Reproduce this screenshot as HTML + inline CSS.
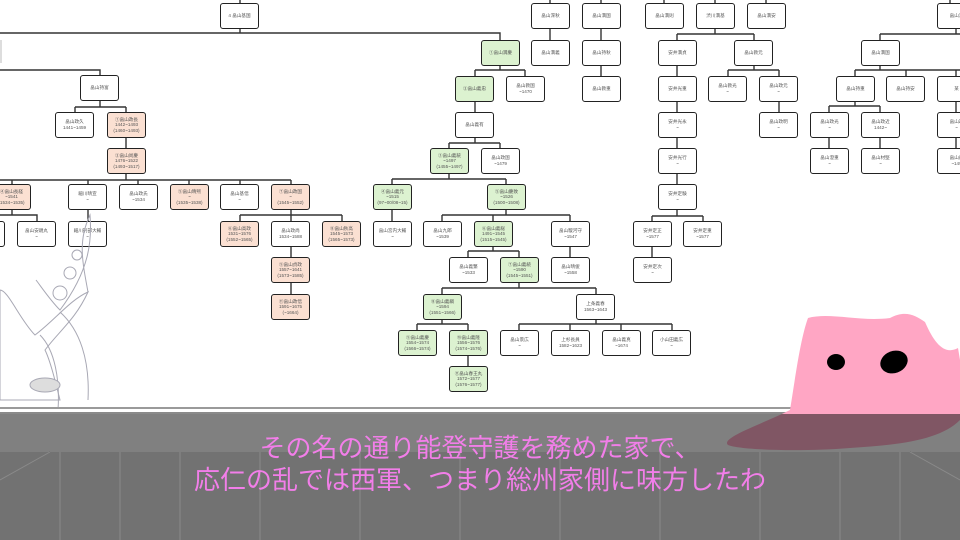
<!DOCTYPE html>
<html><head><meta charset="utf-8">
<style>
*{margin:0;padding:0;box-sizing:border-box}
body{width:960px;height:540px;overflow:hidden;background:#fff;position:relative;font-family:"Liberation Sans","Noto Sans CJK JP",sans-serif}
.b{position:absolute;width:39px;height:26px;border:1.4px solid #222;border-radius:3px;background:#fff;font-size:4.6px;line-height:5.6px;color:#555;text-align:center;display:flex;flex-direction:column;justify-content:center;white-space:nowrap;overflow:hidden}
.g{background:#dcf2d0}
.p{background:#fbe0d2}
svg{position:absolute;left:0;top:0}
.band{position:absolute;left:0;top:414px;width:960px;height:38px;background:rgba(15,15,15,0.53)}
.floor{position:absolute;left:0;top:452px;width:960px;height:88px;background:#727272}
.sub{position:absolute;left:0;width:960px;text-align:center;color:#f27ee9;font-size:26px;line-height:30px;font-family:"Liberation Sans","Noto Sans CJK JP",sans-serif}
</style></head><body>
<svg width="960" height="540" stroke="#333" stroke-width="1.4" fill="none">
<path d="M240 0V3M550 0V3M601 0V3M664 0V3M715 0V3M766 0V3M950 0V3
M240 29V33M0 33H500V40M550 29V40M601 29V40M601 65V76
M0 70H100V75M100 101V107M75 107H126M75 107V112M126 107V112M126 138V148M126 174V180M0 180H291
M12 180V184M88 180V184M138 180V184M189 180V184M240 180V184M291 180V184
M12 210V215M0 215H37V221M88 210V221M291 210V215M240 215H342M240 215V221M291 215V221M342 215V221M291 247V257M291 283V294
M500 65V70M475 70H525M475 70V76M525 70V76M475 101V112M475 138V143M449 143H500M449 143V148M500 143V148M449 174V179M392 179H506M392 179V184M506 179V184M392 210V221
M506 210V215M442 215H570M442 215V221M493 215V221M570 215V221M493 247V251M468 251H519M468 251V257M519 251V257M570 247V257
M519 283V288M442 288H596M442 288V294M596 288V294M442 320V324M417 324H468M417 324V330M468 324V330M468 356V366
M596 320V324M519 324H672M519 324V330M570 324V330M621 324V330M672 324V330
M715 29V34M677 34H754M677 34V40M754 34V40M677 65V76M677 101V112M677 138V148M677 174V184M677 210V216M652 216H703M652 216V221M703 216V221M652 247V257
M754 65V70M728 70H779M728 70V76M779 70V76M779 101V112
M956 29V34M880 34H960M880 34V40M880 65V70M855 70H960M855 70V76M906 70V76M956 70V76M855 101V106M829 106H880M829 106V112M880 106V112M829 138V148M880 138V148M956 101V112M956 138V148"/>
<rect x="0" y="40" width="2" height="23" fill="#ddd" stroke="none"/>
</svg>

<div class="b" style="left:220px;top:3px">4 畠山基国</div>
<div class="b" style="left:80px;top:75px">畠山持富</div>
<div class="b" style="left:55px;top:112px">畠山政久<br>1441~1459</div>
<div class="b p" style="left:107px;top:112px">①畠山政長<br>1442~1493<br>(1460~1493)</div>
<div class="b p" style="left:107px;top:148px">②畠山尚慶<br>1476~1522<br>(1493~1517)</div>
<div class="b p" style="left:-8px;top:184px">④畠山長経<br>~1541<br>(1534~1535)</div>
<div class="b" style="left:68px;top:184px">細川晴宣<br>~</div>
<div class="b" style="left:119px;top:184px">畠山政氏<br>~1534</div>
<div class="b p" style="left:170px;top:184px">⑤畠山晴熙<br>~<br>(1535~1538)</div>
<div class="b" style="left:220px;top:184px">畠山基信<br>~</div>
<div class="b p" style="left:271px;top:184px">⑦畠山政国<br>~<br>(1545~1552)</div>
<div class="b" style="left:-34px;top:221px">畠山<br>~</div>
<div class="b" style="left:17px;top:221px">畠山安親丸<br>~</div>
<div class="b" style="left:68px;top:221px">細川刑部大輔<br>~</div>
<div class="b p" style="left:220px;top:221px">⑥畠山高政<br>1531~1576<br>(1552~1565)</div>
<div class="b" style="left:271px;top:221px">畠山政尚<br>1534~1588</div>
<div class="b p" style="left:322px;top:221px">⑧畠山秋高<br>1545~1573<br>(1565~1573)</div>
<div class="b p" style="left:271px;top:257px">⑨畠山貞政<br>1557~1641<br>(1573~1585)</div>
<div class="b p" style="left:271px;top:294px">⑪畠山政信<br>1591~1675<br>(~1664)</div>

<div class="b" style="left:531px;top:3px">畠山深秋</div>
<div class="b" style="left:582px;top:3px">畠山満国</div>
<div class="b" style="left:645px;top:3px">畠山満則</div>
<div class="b g" style="left:481px;top:40px">①畠山満慶</div>
<div class="b" style="left:531px;top:40px">畠山満義</div>
<div class="b" style="left:582px;top:40px">畠山持秋</div>
<div class="b g" style="left:455px;top:76px">②畠山義忠</div>
<div class="b" style="left:506px;top:76px">畠山教国<br>~1470</div>
<div class="b" style="left:582px;top:76px">畠山教重</div>
<div class="b" style="left:455px;top:112px">畠山義有</div>
<div class="b g" style="left:430px;top:148px">③畠山義統<br>~1497<br>(1455~1497)</div>
<div class="b" style="left:481px;top:148px">畠山政国<br>~1479</div>
<div class="b g" style="left:373px;top:184px">④畠山義元<br>~1515<br>(97~00/08~15)</div>
<div class="b g" style="left:487px;top:184px">⑤畠山慶致<br>~1526<br>(1500~1508)</div>
<div class="b" style="left:373px;top:221px">畠山宮内大輔<br>~</div>
<div class="b" style="left:423px;top:221px">畠山九郎<br>~1539</div>
<div class="b g" style="left:474px;top:221px">⑥畠山義総<br>1491~1545<br>(1515~1545)</div>
<div class="b" style="left:551px;top:221px">畠山駿河守<br>~1547</div>
<div class="b" style="left:449px;top:257px">畠山義繁<br>~1533</div>
<div class="b g" style="left:500px;top:257px">⑦畠山義続<br>~1590<br>(1545~1551)</div>
<div class="b" style="left:551px;top:257px">畠山晴俊<br>~1558</div>
<div class="b g" style="left:423px;top:294px">⑧畠山義綱<br>~1594<br>(1551~1566)</div>
<div class="b" style="left:576px;top:294px">上条義春<br>1563~1643</div>
<div class="b g" style="left:398px;top:330px">⑨畠山義慶<br>1554~1574<br>(1566~1574)</div>
<div class="b g" style="left:449px;top:330px">⑩畠山義隆<br>1556~1576<br>(1574~1576)</div>
<div class="b" style="left:500px;top:330px">畠山景広<br>~</div>
<div class="b" style="left:551px;top:330px">上杉長員<br>1582~1623</div>
<div class="b" style="left:602px;top:330px">畠山義真<br>~1674</div>
<div class="b" style="left:652px;top:330px">小山田義広<br>~</div>
<div class="b g" style="left:449px;top:366px">⑪畠山春王丸<br>1572~1577<br>(1576~1577)</div>

<div class="b" style="left:696px;top:3px">渋川満基</div>
<div class="b" style="left:747px;top:3px">畠山満安</div>
<div class="b" style="left:658px;top:40px">安井満貞</div>
<div class="b" style="left:734px;top:40px">畠山教元</div>
<div class="b" style="left:658px;top:76px">安井光重</div>
<div class="b" style="left:708px;top:76px">畠山教光<br>~</div>
<div class="b" style="left:759px;top:76px">畠山政元<br>~</div>
<div class="b" style="left:658px;top:112px">安井光永<br>~</div>
<div class="b" style="left:759px;top:112px">畠山政明<br>~</div>
<div class="b" style="left:658px;top:148px">安井光行<br>~</div>
<div class="b" style="left:658px;top:184px">安井定験<br>~</div>
<div class="b" style="left:633px;top:221px">安井定正<br>~1577</div>
<div class="b" style="left:683px;top:221px">安井定重<br>~1577</div>
<div class="b" style="left:633px;top:257px">安井定次<br>~</div>

<div class="b" style="left:937px;top:3px">畠山満</div>
<div class="b" style="left:861px;top:40px">畠山満国</div>
<div class="b" style="left:836px;top:76px">畠山持重</div>
<div class="b" style="left:886px;top:76px">畠山持安</div>
<div class="b" style="left:937px;top:76px">某</div>
<div class="b" style="left:810px;top:112px">畠山政光<br>~</div>
<div class="b" style="left:861px;top:112px">畠山政近<br>1442~</div>
<div class="b" style="left:937px;top:112px">畠山政<br>~</div>
<div class="b" style="left:810px;top:148px">畠山澄重<br>~</div>
<div class="b" style="left:861px;top:148px">畠山材堅<br>~</div>
<div class="b" style="left:937px;top:148px">畠山成<br>~149</div>

<!-- sketch character left -->
<svg width="960" height="540" stroke="#a8a8b4" stroke-width="1" fill="rgba(255,255,255,0.85)">
<path d="M88 292C70 300 55 320 35 335C20 320 8 290 0 290V400H60C55 380 50 360 45 350C60 330 75 320 88 292Z"/>
<path d="M88 292C82 260 78 240 90 215C92 240 90 270 60 310C50 300 40 285 36 280" fill="none"/>
<circle cx="77" cy="255" r="5" fill="none"/>
<circle cx="70" cy="273" r="6" fill="none"/>
<circle cx="60" cy="293" r="7" fill="none"/>
<path d="M60 312C80 330 90 360 88 400M40 335C55 350 60 380 58 410" fill="none"/>
<ellipse cx="45" cy="385" rx="15" ry="7" fill="#ddd"/>
</svg>

<!-- bottom -->
<div style="position:absolute;left:0;top:407px;width:960px;height:7px;background:#fff;border-top:2px solid #9a9a9a;border-bottom:2px solid #8a8a8a"></div>
<div class="floor"></div>
<svg width="960" height="540" stroke="#8a8a8a" stroke-width="1">
<path d="M0 480L50 452M960 480L910 452M60 452V540M120 452V540M180 452V540M260 452V540M360 452V540M460 452V540M560 452V540M660 452V540M760 452V540M840 452V540M900 452V540"/>
</svg>
<svg width="960" height="540">
<path d="M808 318C830 312 860 322 890 318C905 310 915 315 925 322C935 345 945 355 958 348L960 360V420C940 440 900 445 850 448C800 452 740 450 728 445C720 438 760 425 790 410C795 380 800 340 808 318Z" fill="#ffa6c4"/>
<ellipse cx="836" cy="362" rx="9" ry="8" fill="#000"/>
<ellipse cx="894" cy="362" rx="14" ry="11" transform="rotate(-20 894 362)" fill="#000"/>
</svg>
<div class="band"></div>
<div class="sub" style="top:433px">その名の通り能登守護を務めた家で、</div>
<div class="sub" style="top:465px">応仁の乱では西軍、つまり総州家側に味方したわ</div>
</body></html>
